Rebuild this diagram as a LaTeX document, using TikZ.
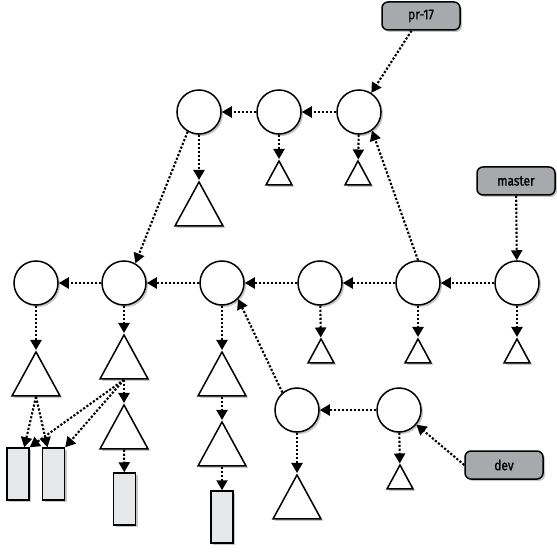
\documentclass[tikz,border=0pt]{standalone}
\usepackage{fontspec}
\usepackage{tikz}
\usetikzlibrary{arrows.meta,shapes.geometric,shadows}
\newfontfamily\reftagfont[FakeStretch=0.85,FakeBold=1.2]{Fira Sans}
\definecolor{GraphInk}{HTML}{000000}
\definecolor{GraphTag}{HTML}{A7A9AC}
\definecolor{GraphBlob}{HTML}{E6E7E8}

\begin{document}
\begin{tikzpicture}[x=1pt,y=-1pt,
    every node/.style={draw=GraphInk,line width=1.5pt,inner sep=0pt},
    softshadow/.style={drop shadow={shadow xshift=2pt,shadow yshift=-2pt,opacity=0.22,fill=black}},
    commit/.style={circle,fill=white,minimum size=44pt,softshadow},
    tree/.style={isosceles triangle,isosceles triangle stretches,shape border rotate=90,
      fill=white,anchor=apex,softshadow},
    bigtree/.style={tree,minimum width=48pt,minimum height=44pt},
    smalltree/.style={tree,minimum width=26pt,minimum height=24pt},
    blob/.style={rectangle,fill=GraphBlob,minimum width=22pt,minimum height=52pt,softshadow},
    reftag/.style={rectangle,rounded corners=6pt,fill=GraphTag,minimum width=78pt,
      minimum height=28pt,font=\reftagfont\fontsize{14}{14}\selectfont,softshadow},
    link/.style={draw=GraphInk,line width=2.1pt,dash pattern=on 2.2pt off 1.8pt,
      -{Triangle[length=10pt,width=11pt]}}]
        \useasboundingbox (0,0) rectangle (557,556);

        \node[commit] (t1) at (199,112) {};
        \node[commit] (t2) at (279,112) {};
        \node[commit] (t3) at (359,112) {};
        \node[bigtree] (t1tree) at (199,180) {};
        \node[smalltree] (t2tree) at (279,159) {};
        \node[smalltree] (t3tree) at (358,159) {};
        \node[reftag] (pr) at (421,16) {pr-17};

        \node[commit] (m1) at (36,283) {};
        \node[commit] (m2) at (124,283) {};
        \node[commit] (m3) at (222,283) {};
        \node[commit] (m4) at (320,283) {};
        \node[commit] (m5) at (418,283) {};
        \node[commit] (m6) at (517,283) {};
        \node[reftag] (master) at (516,181) {master};
        \node[bigtree] (m1tree) at (36,350) {};
        \node[bigtree] (m2tree) at (124,333) {};
        \node[bigtree] (m2sub) at (124,403) {};
        \node[bigtree] (m3tree) at (222,350) {};
        \node[bigtree] (m3sub) at (222,420) {};
        \node[smalltree] (m4tree) at (321,337) {};
        \node[smalltree] (m5tree) at (418,337) {};
        \node[smalltree] (m6tree) at (517,337) {};
        \node[blob] (blobA) at (18,474) {};
        \node[blob] (blobB) at (53.5,474) {};
        \node[blob] (blobC) at (124.5,499) {};
        \node[blob] (blobD) at (222,517) {};

        \node[commit] (b1) at (297,410) {};
        \node[commit] (b2) at (399,410) {};
        \node[bigtree] (b1tree) at (297,473) {};
        \node[smalltree] (b2tree) at (400,463) {};
        \node[reftag] (dev) at (504,465) {dev};

        \foreach \from/\to in {t3/t2,t2/t1,m6/m5,m5/m4,m4/m3,m3/m2,m2/m1,b2/b1,
            t1/t1tree,t2/t2tree,t3/t3tree,m1/m1tree,m2/m2tree,m2tree/m2sub,m2sub/blobC,
            m3/m3tree,m3tree/m3sub,m3sub/blobD,m4/m4tree,m5/m5tree,m6/m6tree,
            b1/b1tree,b2/b2tree,pr/t3,master/m6}
          \draw[link] (\from) -- (\to);
        \draw[link] (t1.240) -- (m2.60);
        \draw[link] (m5.north) -- (t3.-55);
        \draw[link] (b1.130) -- (m3.-45);
        \draw[link] (dev.west) -- (b2);
        \draw[link] (m1tree.south) -- (blobA);
        \draw[link] (m1tree.south) -- (blobB);
        \draw[link] (m2tree.south) -- (blobA.north east);
        \draw[link] (m2tree.south) -- (blobB.north east);
      \end{tikzpicture}
\end{document}
